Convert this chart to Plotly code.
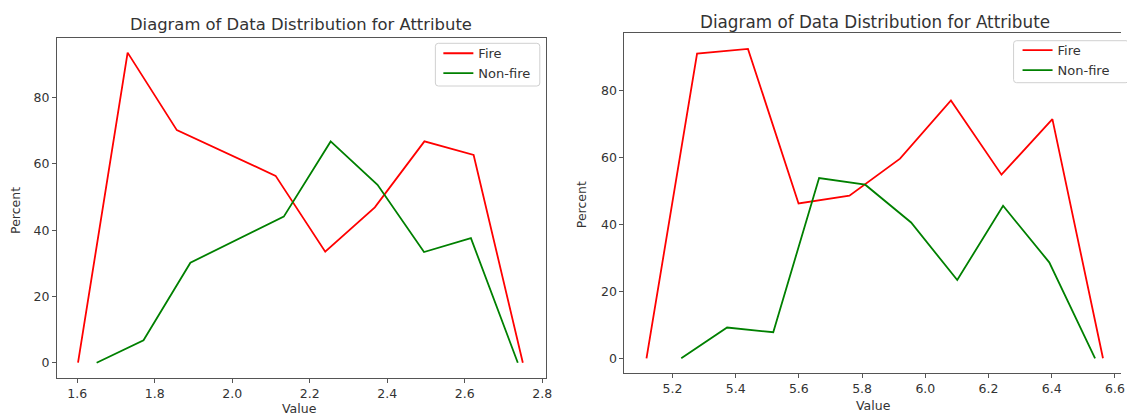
import plotly.graph_objects as go

# ---- data ----
left_fire_x = [1.602, 1.730, 1.857, 1.984, 2.112, 2.240, 2.368, 2.496, 2.623, 2.750]
left_fire_y = [0.0, 93.6, 70.2, 63.3, 56.4, 33.5, 46.9, 66.8, 62.7, 0.0]
left_nonfire_x = [1.650, 1.771, 1.892, 2.012, 2.133, 2.254, 2.375, 2.495, 2.616, 2.737]
left_nonfire_y = [0.0, 6.8, 30.2, 37.2, 44.1, 66.8, 53.7, 33.4, 37.6, 0.0]

right_fire_x = [5.118, 5.278, 5.439, 5.599, 5.760, 5.920, 6.081, 6.241, 6.402, 6.562]
right_fire_y = [0.0, 91.1, 92.5, 46.3, 48.6, 59.7, 77.1, 54.9, 71.5, 0.0]
right_nonfire_x = [5.228, 5.373, 5.519, 5.664, 5.810, 5.955, 6.101, 6.246, 6.392, 6.537]
right_nonfire_y = [0.0, 9.2, 7.8, 53.9, 51.9, 40.6, 23.4, 45.6, 28.7, 0.0]

series_names = ["Fire", "Non-fire"]
title_text = "Diagram of Data Distribution for Attribute"
left_xticks = [1.6, 1.8, 2.0, 2.2, 2.4, 2.6, 2.8]
right_xticks = [5.2, 5.4, 5.6, 5.8, 6.0, 6.2, 6.4, 6.6]
yticks = [0, 20, 40, 60, 80]

W, H = 1127, 415
FONT = "DejaVu Sans"
RED = "#ff0000"
GREEN = "#008000"
SPINE = "#555555"
TXT = "#333333"

fig = go.Figure()
fig.add_trace(go.Scatter(x=left_fire_x, y=left_fire_y, mode="lines", name=series_names[0],
                         line=dict(color=RED, width=1.8), xaxis="x", yaxis="y", legend="legend"))
fig.add_trace(go.Scatter(x=left_nonfire_x, y=left_nonfire_y, mode="lines", name=series_names[1],
                         line=dict(color=GREEN, width=1.8), xaxis="x", yaxis="y", legend="legend"))
fig.add_trace(go.Scatter(x=right_fire_x, y=right_fire_y, mode="lines", name=series_names[0],
                         line=dict(color=RED, width=1.8), xaxis="x2", yaxis="y2", legend="legend2"))
fig.add_trace(go.Scatter(x=right_nonfire_x, y=right_nonfire_y, mode="lines", name=series_names[1],
                         line=dict(color=GREEN, width=1.8), xaxis="x2", yaxis="y2", legend="legend2"))

def px_x(p):
    return p / W

def px_y(p):
    return 1 - p / H

axis_common = dict(showgrid=False, zeroline=False, showline=True, linecolor=SPINE, linewidth=1,
                   ticks="outside", ticklen=4, tickcolor=SPINE, tickwidth=1,
                   tickfont=dict(family=FONT, size=12.5, color=TXT))

legend_common = dict(xanchor="left", yanchor="top", bgcolor="rgba(0,0,0,0)", borderwidth=0,
                     font=dict(family=FONT, size=13, color=TXT), tracegroupgap=0)

fig.update_layout(
    width=W, height=H,
    margin=dict(l=0, r=0, t=0, b=0),
    paper_bgcolor="white", plot_bgcolor="white",
    font=dict(family=FONT, color=TXT),
    xaxis=dict(domain=[px_x(57.3), px_x(549)], range=[1.5477, 2.810], anchor="y",
               tickvals=left_xticks, tickformat=".1f", mirror=True, **axis_common),
    yaxis=dict(domain=[px_y(378.3), px_y(37.7)], range=[-4.7, 98.1], anchor="x",
               tickvals=yticks, mirror=True, **axis_common),
    xaxis2=dict(domain=[px_x(627.7), 1.0], range=[5.048, 6.619], anchor="y2",
                tickvals=right_xticks, tickformat=".1f", mirror=True, **axis_common),
    yaxis2=dict(domain=[px_y(373.3), px_y(33.3)], range=[-4.48, 97.16], anchor="x2",
                tickvals=yticks, mirror=False, **axis_common),
    legend=dict(x=px_x(440.7), y=px_y(38.3), **legend_common),
    legend2=dict(x=px_x(1023), y=px_y(35.2), **legend_common),
    showlegend=True,
)

def rounded_box(x0, y0, x1, y1, r=3):
    X = lambda p: px_x(p)
    Y = lambda p: px_y(p)
    return (f"M {X(x0 + r)},{Y(y0)} L {X(x1 - r)},{Y(y0)} Q {X(x1)},{Y(y0)} {X(x1)},{Y(y0 + r)} "
            f"L {X(x1)},{Y(y1 - r)} Q {X(x1)},{Y(y1)} {X(x1 - r)},{Y(y1)} "
            f"L {X(x0 + r)},{Y(y1)} Q {X(x0)},{Y(y1)} {X(x0)},{Y(y1 - r)} "
            f"L {X(x0)},{Y(y0 + r)} Q {X(x0)},{Y(y0)} {X(x0 + r)},{Y(y0)} Z")

for box in [(437.7, 43.3, 542.7, 86.0), (1019.0, 40.7, 1135.0, 82.7)]:
    fig.add_shape(type="path", path=rounded_box(*box), xref="paper", yref="paper",
                  line=dict(color="#d0d0d0", width=1), fillcolor="rgba(255,255,255,0.8)",
                  layer="above")

annos = [
    dict(text=title_text, x=px_x(302.5), y=px_y(25), size=16.4),
    dict(text=title_text, x=px_x(879.8), y=px_y(21.5), size=16.8),
    dict(text="Value", x=px_x(301), y=px_y(408), size=12.5),
    dict(text="Value", x=px_x(878), y=px_y(405), size=12.5),
]
for a in annos:
    fig.add_annotation(text=a["text"], x=a["x"], y=a["y"], xref="paper", yref="paper",
                       xanchor="center", yanchor="middle", showarrow=False,
                       font=dict(family=FONT, size=a["size"], color=TXT))
for xp, yp in [(16, 210), (585.3, 205)]:
    fig.add_annotation(text="Percent", x=px_x(xp), y=px_y(yp), xref="paper", yref="paper",
                       xanchor="center", yanchor="middle", showarrow=False, textangle=-90,
                       font=dict(family=FONT, size=12.5, color=TXT))

fig.write_html("out.html")
